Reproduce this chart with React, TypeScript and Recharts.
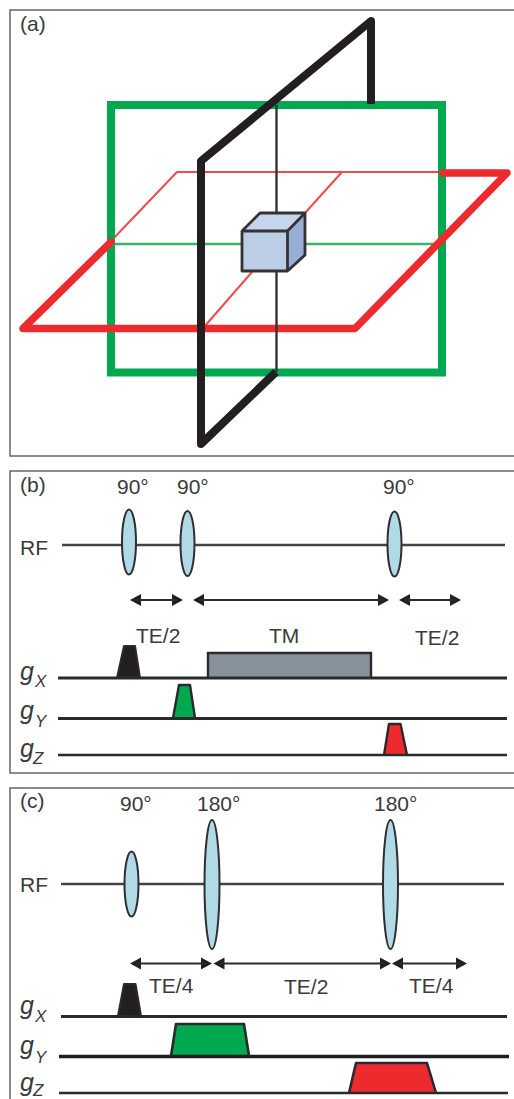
import React from "react";
import { ComposedChart, XAxis, YAxis, Line, Area, Scatter } from "recharts";

type P = { x: number; y: number };
type R = { x: number; y: [number, number] };

// Panel frames
const frameA: P[] = [{ x: 514, y: 10 }, { x: 10, y: 10 }, { x: 10, y: 456 }, { x: 514, y: 456 }];
const frameB: P[] = [{ x: 514, y: 471 }, { x: 10, y: 471 }, { x: 10, y: 773 }, { x: 514, y: 773 }];
const frameC: P[] = [{ x: 514, y: 788 }, { x: 10, y: 788 }, { x: 10, y: 1099 }];

// Panel (a): three orthogonal planes
const greenPlane: P[] = [{ x: 111, y: 105 }, { x: 442, y: 105 }, { x: 442, y: 372.5 }, { x: 111, y: 372.5 }, { x: 111, y: 105 }];
const greenThinL: P[] = [{ x: 111, y: 244 }, { x: 242, y: 244 }];
const greenThinR: P[] = [{ x: 305, y: 244 }, { x: 442, y: 244 }];
const redThinBack: P[] = [{ x: 111, y: 241 }, { x: 177, y: 172 }, { x: 442, y: 172 }];
const redThinUpper: P[] = [{ x: 342, y: 172 }, { x: 305, y: 213 }];
const redThinLower: P[] = [{ x: 252, y: 272 }, { x: 204, y: 327 }];
const redPlane: P[] = [{ x: 443, y: 173 }, { x: 507, y: 173 }, { x: 355, y: 328.5 }, { x: 23, y: 328.5 }, { x: 111, y: 242 }];
const blackThinUp: P[] = [{ x: 276.5, y: 105 }, { x: 276.5, y: 213 }];
const blackThinDown: P[] = [{ x: 276.5, y: 271 }, { x: 276.5, y: 372 }];
const blackPlane: P[] = [{ x: 371, y: 104 }, { x: 371, y: 21 }, { x: 201, y: 161 }, { x: 201, y: 444 }, { x: 276, y: 372 }];

// Panel (a): cube
const cubeTop: R[] = [{ x: 242, y: [231, 231] }, { x: 260, y: [213, 231] }, { x: 287.5, y: [213, 231] }, { x: 305, y: [213, 213] }];
const cubeSide: R[] = [{ x: 287.5, y: [231, 271] }, { x: 305, y: [213, 255] }];
const cubeFront: R[] = [{ x: 242, y: [231, 271] }, { x: 287.5, y: [231, 271] }];
const cubeOutline: P[] = [{ x: 242, y: 231 }, { x: 287.5, y: 231 }, { x: 287.5, y: 271 }, { x: 242, y: 271 }, { x: 242, y: 231 }, { x: 260, y: 213 }, { x: 305, y: 213 }, { x: 305, y: 255 }, { x: 287.5, y: 271 }];
const cubeEdge: P[] = [{ x: 287.5, y: 231 }, { x: 305, y: 213 }];

// Panel (b): RF and gradient rails
const rfB: P[] = [{ x: 62, y: 545 }, { x: 505, y: 545 }];
const gxB: P[] = [{ x: 58, y: 678 }, { x: 507, y: 678 }];
const gyB: P[] = [{ x: 58, y: 718.5 }, { x: 507, y: 718.5 }];
const gzB: P[] = [{ x: 58, y: 755 }, { x: 507, y: 755 }];

// Panel (b): gradient pulses
const bBlack: P[] = [{ x: 117, y: 678 }, { x: 124, y: 646 }, { x: 135, y: 646 }, { x: 140, y: 678 }];
const bGreen: P[] = [{ x: 173, y: 718 }, { x: 179, y: 685 }, { x: 190, y: 685 }, { x: 195, y: 718 }];
const bRed: P[] = [{ x: 384, y: 755 }, { x: 389, y: 724 }, { x: 400.5, y: 724 }, { x: 407, y: 755 }];
const bGray: P[] = [{ x: 208, y: 678 }, { x: 208, y: 653 }, { x: 371, y: 653 }, { x: 371, y: 678 }];
const bBlackFill: R[] = [{ x: 117, y: [678, 678] }, { x: 124, y: [646, 678] }, { x: 135, y: [646, 678] }, { x: 140, y: [678, 678] }];
const bGreenFill: R[] = [{ x: 173, y: [718, 718] }, { x: 179, y: [685, 718] }, { x: 190, y: [685, 718] }, { x: 195, y: [718, 718] }];
const bRedFill: R[] = [{ x: 384, y: [755, 755] }, { x: 389, y: [724, 755] }, { x: 400.5, y: [724, 755] }, { x: 407, y: [755, 755] }];
const bGrayFill: R[] = [{ x: 208, y: [653, 678] }, { x: 371, y: [653, 678] }];

// Panel (c): RF and gradient rails
const rfC: P[] = [{ x: 61, y: 884 }, { x: 504, y: 884 }];
const gxC: P[] = [{ x: 61, y: 1016.5 }, { x: 507, y: 1016.5 }];
const gyC: P[] = [{ x: 59, y: 1056.5 }, { x: 509, y: 1056.5 }];
const gzC: P[] = [{ x: 59, y: 1093 }, { x: 508, y: 1093 }];

// Panel (c): gradient pulses
const cBlack: P[] = [{ x: 118, y: 1016 }, { x: 124, y: 984 }, { x: 135.5, y: 984 }, { x: 141, y: 1016 }];
const cGreen: P[] = [{ x: 171, y: 1056 }, { x: 176, y: 1024 }, { x: 244, y: 1024 }, { x: 249, y: 1056 }];
const cRed: P[] = [{ x: 349, y: 1093 }, { x: 356, y: 1063 }, { x: 427, y: 1063 }, { x: 436, y: 1093 }];
const cBlackFill: R[] = [{ x: 118, y: [1016, 1016] }, { x: 124, y: [984, 1016] }, { x: 135.5, y: [984, 1016] }, { x: 141, y: [1016, 1016] }];
const cGreenFill: R[] = [{ x: 171, y: [1056, 1056] }, { x: 176, y: [1024, 1056] }, { x: 244, y: [1024, 1056] }, { x: 249, y: [1056, 1056] }];
const cRedFill: R[] = [{ x: 349, y: [1093, 1093] }, { x: 356, y: [1063, 1093] }, { x: 427, y: [1063, 1093] }, { x: 436, y: [1093, 1093] }];

// RF pulses
const pulses90: P[] = [{ x: 129, y: 542 }, { x: 187.5, y: 543.5 }, { x: 394.5, y: 544 }, { x: 131.5, y: 884 }];
const pulses180: P[] = [{ x: 212, y: 884.5 }, { x: 390.5, y: 884.5 }];

// Timing arrows [start, end] at a level
const arrowSpans: { from: number; to: number; y: number }[] = [
  { from: 130, to: 183, y: 600 },
  { from: 193, to: 389, y: 600 },
  { from: 399, to: 461, y: 600 },
  { from: 130, to: 212, y: 963.5 },
  { from: 213.5, to: 391, y: 963.5 },
  { from: 392, to: 467, y: 963.5 },
];

// Texts
const labels = [
  { x: 20, y: 31, text: "(a)" },
  { x: 20, y: 492, text: "(b)" },
  { x: 117, y: 494, text: "90°" },
  { x: 177, y: 494, text: "90°" },
  { x: 383, y: 494, text: "90°" },
  { x: 20, y: 555, text: "RF" },
  { x: 136, y: 643, text: "TE/2" },
  { x: 269, y: 643, text: "TM" },
  { x: 415, y: 645, text: "TE/2" },
  { x: 20, y: 808, text: "(c)" },
  { x: 120, y: 811, text: "90°" },
  { x: 197, y: 811, text: "180°" },
  { x: 374, y: 811, text: "180°" },
  { x: 20, y: 892, text: "RF" },
  { x: 149, y: 993, text: "TE/4" },
  { x: 284, y: 994, text: "TE/2" },
  { x: 409, y: 993, text: "TE/4" },
];
const gLetters = [
  { x: 20, y: 680, text: "g" },
  { x: 20, y: 718.5, text: "g" },
  { x: 20, y: 757, text: "g" },
  { x: 20, y: 1014, text: "g" },
  { x: 20, y: 1054, text: "g" },
  { x: 20, y: 1091, text: "g" },
];
const gSubs = [
  { x: 35, y: 687, text: "X" },
  { x: 35, y: 727, text: "Y" },
  { x: 33, y: 764, text: "Z" },
  { x: 35, y: 1022, text: "X" },
  { x: 35, y: 1063, text: "Y" },
  { x: 33, y: 1096, text: "Z" },
];

const FONT = '"Liberation Sans", Arial, sans-serif';
const INK = "#3a3a3c";
const GREEN = "#00a94f";
const RED = "#ed2b2e";
const BLACK = "#231f20";

const seg = (data: P[], color: string, width: number, cap: "butt" | "round" | "square" = "butt", join: "miter" | "round" = "round") => (
  <Line
    data={data}
    dataKey="y"
    type="linear"
    stroke={color}
    strokeWidth={width}
    strokeLinecap={cap}
    strokeLinejoin={join}
    dot={false}
    activeDot={false}
    legendType="none"
    isAnimationActive={false}
  />
);

const fill = (data: R[], color: string) => (
  <Area
    data={data}
    dataKey="y"
    type="linear"
    stroke="none"
    fill={color}
    fillOpacity={1}
    dot={false}
    activeDot={false}
    legendType="none"
    isAnimationActive={false}
  />
);

const textShape = (size: number, italic: boolean) => (props: any) => (
  <text
    x={props.cx}
    y={props.cy}
    fontFamily={FONT}
    fontSize={size}
    fontStyle={italic ? "italic" : "normal"}
    fill={INK}
  >
    {props.payload.text}
  </text>
);

const lensShape = (ry: number, rx: number) => (props: any) => (
  <ellipse cx={props.cx} cy={props.cy} rx={rx} ry={ry} fill="#b1dae7" stroke="#2f2f31" strokeWidth={2} />
);

const heads: R[][] = arrowSpans.flatMap((a) => [
  [{ x: a.from, y: [a.y, a.y] as [number, number] }, { x: a.from + 11, y: [a.y - 6, a.y + 6] as [number, number] }],
  [{ x: a.to - 11, y: [a.y - 6, a.y + 6] as [number, number] }, { x: a.to, y: [a.y, a.y] as [number, number] }],
]);

export default function App() {
  return (
    <div style={{ position: "absolute", left: 0, top: 0, width: 514, height: 1099, background: "#fff" }}>
      <ComposedChart width={514} height={1099} margin={{ top: 0, right: 0, bottom: 0, left: 0 }}>
        <XAxis type="number" dataKey="x" domain={[0, 514]} hide allowDataOverflow />
        <YAxis type="number" dataKey="y" domain={[0, 1099]} reversed hide allowDataOverflow />

        {fill(cubeTop, "#c5d5ec")}
        {fill(cubeSide, "#98aed4")}
        {fill(cubeFront, "#bccde6")}
        {fill(bBlackFill, BLACK)}
        {fill(bGreenFill, GREEN)}
        {fill(bRedFill, RED)}
        {fill(bGrayFill, "#87919a")}
        {fill(cBlackFill, BLACK)}
        {fill(cGreenFill, GREEN)}
        {fill(cRedFill, RED)}
        {heads.map((h, i) => (
          <Area
            key={i}
            data={h}
            dataKey="y"
            type="linear"
            stroke="none"
            fill={BLACK}
            fillOpacity={1}
            dot={false}
            activeDot={false}
            legendType="none"
            isAnimationActive={false}
          />
        ))}

        {seg(frameA, "#666668", 1.5, "butt", "miter")}
        {seg(frameB, "#666668", 1.5, "butt", "miter")}
        {seg(frameC, "#666668", 1.5, "butt", "miter")}

        {seg(redThinBack, "#ef4a4c", 2)}
        {seg(redThinUpper, "#ef4a4c", 2)}
        {seg(redThinLower, "#ef4a4c", 2)}
        {seg(greenPlane, GREEN, 8, "square", "miter")}
        {seg(greenThinL, "#35b568", 2.4)}
        {seg(greenThinR, "#35b568", 2.4)}
        {seg(redPlane, RED, 7.5, "round", "round")}
        {seg(blackThinUp, "#333335", 2.4)}
        {seg(blackThinDown, "#333335", 2.4)}
        {seg(blackPlane, BLACK, 8, "butt", "round")}
        {seg(cubeOutline, "#333335", 2.8)}
        {seg(cubeEdge, "#333335", 2.8)}

        {seg(rfB, "#444446", 2.4)}
        {seg(gxB, "#2a2a2c", 3)}
        {seg(gyB, "#2a2a2c", 3)}
        {seg(gzB, "#2a2a2c", 2.6)}
        {seg(bBlack, "#2a2a2c", 2)}
        {seg(bGreen, "#2a2a2c", 2.4)}
        {seg(bRed, "#2a2a2c", 2.4)}
        {seg(bGray, "#2a2a2c", 2.4, "butt", "miter")}

        {seg(rfC, "#444446", 2.4)}
        {seg(gxC, "#2a2a2c", 3)}
        {seg(gyC, "#1f1f21", 3.5)}
        {seg(gzC, "#2a2a2c", 2.6)}
        {seg(cBlack, "#2a2a2c", 2)}
        {seg(cGreen, "#2a2a2c", 2.6)}
        {seg(cRed, "#2a2a2c", 2.6)}

        {arrowSpans.map((a, i) => (
          <Line
            key={"s" + i}
            data={[{ x: a.from + 6, y: a.y }, { x: a.to - 6, y: a.y }]}
            dataKey="y"
            type="linear"
            stroke="#2a2a2c"
            strokeWidth={2}
            dot={false}
            activeDot={false}
            legendType="none"
            isAnimationActive={false}
          />
        ))}

        <Scatter data={pulses90} dataKey="y" shape={lensShape(32.5, 7)} legendType="none" isAnimationActive={false} />
        <Scatter data={pulses180} dataKey="y" shape={lensShape(64.5, 7.5)} legendType="none" isAnimationActive={false} />
        <Scatter data={labels} dataKey="y" shape={textShape(21, false)} legendType="none" isAnimationActive={false} />
        <Scatter data={gLetters} dataKey="y" shape={textShape(25, true)} legendType="none" isAnimationActive={false} />
        <Scatter data={gSubs} dataKey="y" shape={textShape(17, true)} legendType="none" isAnimationActive={false} />
      </ComposedChart>
    </div>
  );
}
